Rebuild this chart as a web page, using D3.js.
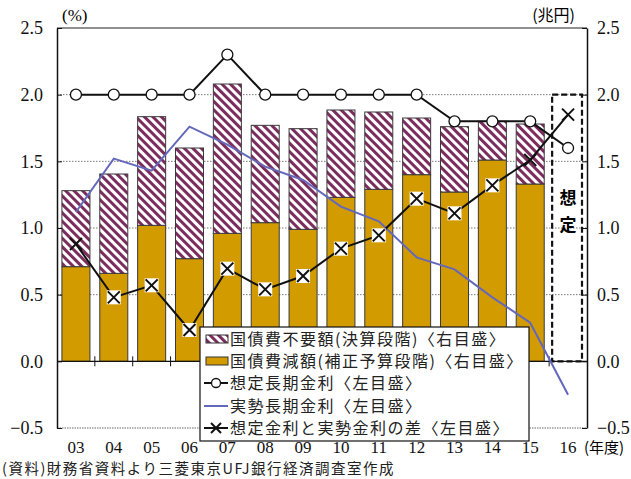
<!DOCTYPE html>
<html><head><meta charset="utf-8">
<script src="https://cdn.jsdelivr.net/npm/d3@7"></script>
<style>body{margin:0;background:#fff}svg{display:block}</style>
</head><body>
<svg id="c" width="631" height="479"></svg>
<script>
const years = ["03","04","05","06","07","08","09","10","11","12","13","14","15","16"];
const cutHosei = [0.71,0.66,1.02,0.77,0.96,1.04,0.99,1.23,1.29,1.40,1.27,1.51,1.33,null];
const unneeded = [0.57,0.745,0.815,0.83,1.12,0.73,0.755,0.655,0.58,0.425,0.49,0.29,0.45,null];
const assumedRate = [2.0,2.0,2.0,2.0,2.3,2.0,2.0,2.0,2.0,2.0,1.8,1.8,1.8,1.6];
const actualRate = [1.12,1.52,1.43,1.76,1.625,1.46,1.36,1.16,1.05,0.78,0.69,0.48,0.29,-0.25];
const gap = [0.88,0.48,0.57,0.235,0.695,0.54,0.64,0.845,0.945,1.22,1.11,1.32,1.51,1.85];
const yTicks = [-0.5,0.0,0.5,1.0,1.5,2.0,2.5];
const legendLabels = ["国債費不要額(決算段階)〈右目盛〉","国債費減額(補正予算段階)〈右目盛〉","想定長期金利〈左目盛〉","実勢長期金利〈左目盛〉","想定金利と実勢金利の差〈左目盛〉"];

const svg = d3.select("#c");
const L=57, R=587, T=28, B=428;
const x = d3.scaleBand().domain(years).range([L,R]).paddingInner(0.26).paddingOuter(0.13);
const xb = d3.scaleBand().domain(years).range([L,R]);
const y = d3.scaleLinear().domain([-0.5,2.5]).range([B,T]);
const cx = d => xb(d)+xb.bandwidth()/2;
const serif = "'Liberation Serif','Times New Roman',serif";
const jp = "'Noto Sans CJK JP','Noto Sans',sans-serif";
const GOLD = "#d29b00", HATCH="#7b2d5e", BLUE="#6468bb";

const defs = svg.append("defs");
const pat = defs.append("pattern").attr("id","hatch").attr("patternUnits","userSpaceOnUse")
  .attr("width",6).attr("height",6).attr("patternTransform","rotate(-45)");
pat.append("rect").attr("width",6).attr("height",6).attr("fill","#fff");
pat.append("rect").attr("x",0).attr("width",3).attr("height",6).attr("fill",HATCH);

// gridlines
svg.append("g").selectAll("line").data(yTicks.filter(v=>v>0 && v<2.5)).join("line")
  .attr("x1",L).attr("x2",R).attr("y1",d=>y(d)).attr("y2",d=>y(d))
  .attr("stroke","#777").attr("stroke-width",1).attr("stroke-dasharray","1.5,1.5");
svg.append("line").attr("x1",L).attr("x2",R).attr("y1",B).attr("y2",B)
  .attr("stroke","#666").attr("stroke-dasharray","1.5,1");
svg.append("line").attr("x1",L).attr("x2",R).attr("y1",T).attr("y2",T).attr("stroke","#222").attr("stroke-width",1.2);

// bars
const bars = svg.append("g");
years.forEach((yr,i)=>{
  if(cutHosei[i]==null) return;
  bars.append("rect").attr("x",x(yr)).attr("width",x.bandwidth())
    .attr("y",y(cutHosei[i])).attr("height",y(0)-y(cutHosei[i]))
    .attr("fill",GOLD).attr("stroke","#3a3a3a").attr("stroke-width",1);
  const top = cutHosei[i]+unneeded[i];
  bars.append("rect").attr("x",x(yr)).attr("width",x.bandwidth())
    .attr("y",y(top)).attr("height",y(cutHosei[i])-y(top))
    .attr("fill","url(#hatch)").attr("stroke","#3a3a3a").attr("stroke-width",1);
});

// zero axis
svg.append("line").attr("x1",L).attr("x2",R).attr("y1",y(0)).attr("y2",y(0)).attr("stroke","#111").attr("stroke-width",1.3);
svg.append("g").selectAll("line").data(years.slice(1)).join("line")
  .attr("x1",d=>xb(d)).attr("x2",d=>xb(d)).attr("y1",y(0)-5).attr("y2",y(0)+5).attr("stroke","#111");

// axes
const yl = d3.axisLeft(y).tickValues(yTicks).tickFormat(d3.format(".1f")).tickSizeInner(-5).tickSizeOuter(0).tickPadding(14);
const yr = d3.axisRight(y).tickValues(yTicks).tickFormat(d3.format(".1f")).tickSizeInner(-5).tickSizeOuter(0).tickPadding(10);
const gl = svg.append("g").attr("transform",`translate(${L},0)`).call(yl);
const gr = svg.append("g").attr("transform",`translate(${R},0)`).call(yr);
[gl,gr].forEach(g=>{
  g.select(".domain").attr("stroke","#111").attr("stroke-width",1.5);
  g.selectAll("line").attr("stroke","#111");
  g.selectAll("text").attr("font-family",serif).attr("font-size",18).attr("fill","#111");
});

// dashed box for 16
svg.append("rect").attr("x",xb("16")+3).attr("y",y(2.0)).attr("width",xb.bandwidth()-8).attr("height",y(0)-y(2.0))
  .attr("fill","none").attr("stroke","#111").attr("stroke-width",2.2).attr("stroke-dasharray","6,3");
svg.append("text").attr("x",cx("16")).attr("y",y(1.18)).attr("text-anchor","middle")
  .attr("font-family",jp).attr("font-weight","bold").attr("font-size",17).text("想");
svg.append("text").attr("x",cx("16")).attr("y",y(0.98)).attr("text-anchor","middle")
  .attr("font-family",jp).attr("font-weight","bold").attr("font-size",17).text("定");

// lines
const line = d3.line().x((d,i)=>cx(years[i])).y(d=>y(d));
svg.append("path").datum(actualRate).attr("d",line).attr("fill","none").attr("stroke",BLUE).attr("stroke-width",2);
svg.append("path").datum(assumedRate).attr("d",line).attr("fill","none").attr("stroke","#111").attr("stroke-width",2);
svg.append("path").datum(gap).attr("d",line).attr("fill","none").attr("stroke","#111").attr("stroke-width",2);
svg.append("g").selectAll("circle").data(assumedRate).join("circle")
  .attr("cx",(d,i)=>cx(years[i])).attr("cy",d=>y(d)).attr("r",5.5)
  .attr("fill","#fff").attr("stroke","#111").attr("stroke-width",1.3);
const xm = svg.append("g");
gap.forEach((v,i)=>{
  const px=cx(years[i]), py=y(v), s=6;
  if(cutHosei[i]!=null && v<cutHosei[i]) xm.append("rect").attr("x",px-s-1).attr("y",py-s-1).attr("width",2*s+2).attr("height",2*s+2).attr("fill","#fff");
  xm.append("path").attr("d",`M${px-s},${py-s}L${px+s},${py+s}M${px-s},${py+s}L${px+s},${py-s}`)
    .attr("stroke","#111").attr("stroke-width",2);
});

// unit labels
svg.append("text").attr("x",62).attr("y",21).attr("font-family",serif).attr("font-size",17).text("(%)");
svg.append("text").attr("x",575).attr("y",21).attr("text-anchor","end").attr("font-family",jp).attr("font-size",16).text("(兆円)");

// x labels
svg.append("g").selectAll("text").data(years).join("text")
  .attr("x",d=>cx(d)).attr("y",453).attr("text-anchor","middle")
  .attr("font-family",serif).attr("font-size",17).attr("fill","#111").text(d=>d);
svg.append("text").attr("x",584).attr("y",453).attr("font-family",jp).attr("font-size",15).text("(年度)");

// legend
const lg = svg.append("g");
lg.append("rect").attr("x",200).attr("y",327).attr("width",329).attr("height",114).attr("fill","#fff").attr("stroke","#111").attr("stroke-width",1.2);
const rowY = [339,361,383,406,428];
legendLabels.forEach((t,i)=>{
  const yy=rowY[i];
  if(i==0) lg.append("rect").attr("x",206).attr("y",yy-4).attr("width",22).attr("height",8).attr("fill","url(#hatch)").attr("stroke","#333");
  if(i==1) lg.append("rect").attr("x",206).attr("y",yy-4).attr("width",22).attr("height",8).attr("fill",GOLD).attr("stroke","#333");
  if(i==2){ lg.append("line").attr("x1",204).attr("x2",228).attr("y1",yy).attr("y2",yy).attr("stroke","#111").attr("stroke-width",2);
    lg.append("circle").attr("cx",216).attr("cy",yy).attr("r",4.5).attr("fill","#fff").attr("stroke","#111").attr("stroke-width",1.3);}
  if(i==3) lg.append("line").attr("x1",204).attr("x2",228).attr("y1",yy).attr("y2",yy).attr("stroke",BLUE).attr("stroke-width",2);
  if(i==4){ lg.append("line").attr("x1",204).attr("x2",228).attr("y1",yy).attr("y2",yy).attr("stroke","#111").attr("stroke-width",2);
    lg.append("path").attr("d",`M211,${yy-5}L221,${yy+5}M211,${yy+5}L221,${yy-5}`).attr("stroke","#111").attr("stroke-width",2);}
  lg.append("text").attr("x",230).attr("y",yy+6).attr("font-family",jp).attr("font-size",16)
    .attr("letter-spacing",1.5).attr("fill","#222").text(t);
});

// source
svg.append("text").attr("x",2).attr("y",474).attr("font-family",jp).attr("font-size",14.5).attr("fill","#222")
  .attr("letter-spacing",1.5).text("(資料)財務省資料より三菱東京UFJ銀行経済調査室作成");
</script>
</body></html>
